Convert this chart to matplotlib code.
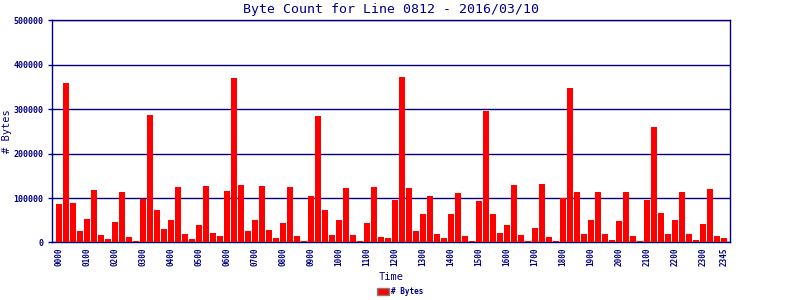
import matplotlib
matplotlib.use("Agg")
import numpy as np
import matplotlib.pyplot as plt

# 15-minute slots for the day
times = [f"{h:02d}{m:02d}" for h in range(24) for m in (0, 15, 30, 45)]

byte_counts = [
    86700, 359200, 89000, 25900, 52900, 118200, 16900, 7900,
    46200, 113700, 12400, 3400, 98700, 287100, 73200, 30400,
    50700, 125000, 19100, 7900, 39400, 127200, 21400, 14600,
    116000, 370500, 129500, 25900, 50700, 127200, 28200, 10100,
    43900, 125000, 14600, 4100, 104700, 284900, 73200, 16900,
    50700, 122700, 16900, 4100, 43900, 125000, 12400, 10100,
    95700, 372700, 122700, 25900, 64200, 104700, 19100, 10100,
    64200, 111500, 14600, 3400, 93500, 296100, 64200, 21400,
    39400, 129500, 16900, 3400, 32700, 131700, 12400, 3400,
    100200, 347900, 113700, 19100, 50700, 113700, 19100, 5600,
    48400, 113700, 14600, 3400, 95700, 260100, 66400, 19100,
    50700, 113700, 19100, 5600, 41700, 120500, 14600, 10100,
]

tick_labels = [f"{h:02d}00" for h in range(24)] + ["2345"]

title = "Byte Count for Line 0812 - 2016/03/10"
NAVY = "#000080"
MONO = "DejaVu Sans Mono"

fig = plt.figure(figsize=(8, 3), dpi=100)
ax = fig.add_axes([0.065, 0.192, 0.8475, 0.74])

x = np.arange(len(times))
ax.bar(x, byte_counts, width=0.86, color="#ff0000", label="# Bytes", zorder=3)

ax.set_xlim(-1.0, len(times) - 0.14)
ax.set_ylim(0, 500000)
ax.set_yticks([0, 100000, 200000, 300000, 400000, 500000])
ax.set_yticklabels(["0", "100000", "200000", "300000", "400000", "500000"],
                   fontsize=6, fontweight="bold", color=NAVY, family=MONO)

tick_pos = [times.index(t) for t in tick_labels]
ax.set_xticks(tick_pos)
ax.set_xticklabels(tick_labels, rotation=90, fontsize=5.5, fontweight="bold",
                   color=NAVY, family=MONO)
ax.tick_params(axis="x", length=0, pad=4)
ax.tick_params(axis="y", length=3, width=1.0, color=NAVY, pad=3)

ax.grid(axis="y", color=NAVY, linewidth=1.0, zorder=1)
for s in ax.spines.values():
    s.set_color(NAVY)
    s.set_linewidth(1.0)

ax.set_title(title, fontsize=9.5, color=NAVY, family=MONO, pad=5)
ax.set_xlabel("Time", fontsize=7.5, color=NAVY, family=MONO, labelpad=4)
ax.set_ylabel("# Bytes", fontsize=7.5, color=NAVY, family=MONO)
ax.yaxis.set_label_coords(-0.066, 0.5)
ax.yaxis.label.set_verticalalignment("center")

leg = fig.legend(loc="lower center", bbox_to_anchor=(0.5, -0.01), frameon=False,
                 prop={"family": MONO, "size": 5.5, "weight": "bold"},
                 handlelength=1.6, handleheight=1.0, handletextpad=0.3)
for t in leg.get_texts():
    t.set_color(NAVY)
for p in leg.get_patches():
    p.set_edgecolor("#808080")
    p.set_linewidth(1.0)

fig.savefig("out.png", dpi=100)
